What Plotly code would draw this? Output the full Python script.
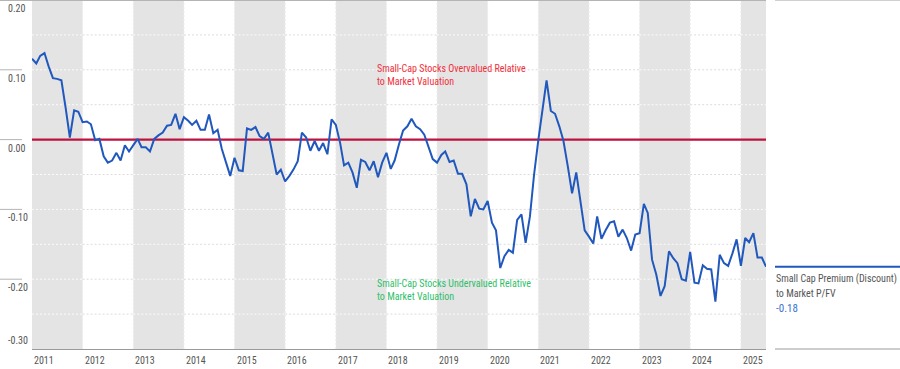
import pandas as pd
import plotly.graph_objects as go

# ---- data -------------------------------------------------------------
start_month = "2011-01-01"
premium = [
    0.116, 0.109, 0.120, 0.124, 0.105, 0.088, 0.087, 0.085, 0.045, 0.003, 0.042, 0.040,
    0.025, 0.026, 0.022, -0.001, 0.001, -0.024, -0.033, -0.030, -0.019, -0.030, -0.008, -0.017,
    -0.008, 0.001, -0.011, -0.011, -0.017, 0.001, 0.006, 0.010, 0.020, 0.021, 0.037, 0.015,
    0.032, 0.027, 0.021, 0.027, 0.014, 0.014, 0.036, 0.009, 0.014, -0.013, -0.033, -0.052,
    -0.026, -0.044, -0.045, 0.016, 0.014, 0.018, 0.005, 0.001, 0.010, -0.021, -0.050, -0.043,
    -0.060, -0.052, -0.043, -0.031, 0.010, 0.003, -0.016, -0.002, -0.016, -0.005, -0.021, 0.029,
    0.021, -0.005, -0.037, -0.033, -0.047, -0.069, -0.029, -0.032, -0.044, -0.031, -0.054, -0.033,
    -0.019, -0.042, -0.030, -0.007, 0.013, 0.019, 0.030, 0.019, 0.015, 0.007, -0.011, -0.028,
    -0.033, -0.022, -0.017, -0.032, -0.030, -0.049, -0.049, -0.064, -0.110, -0.085, -0.099, -0.100,
    -0.088, -0.119, -0.130, -0.184, -0.167, -0.158, -0.162, -0.115, -0.107, -0.148, -0.110, -0.050,
    0.000, 0.048, 0.085, 0.041, 0.037, 0.019, -0.002, -0.038, -0.077, -0.047, -0.091, -0.130,
    -0.139, -0.149, -0.110, -0.142, -0.130, -0.119, -0.117, -0.139, -0.129, -0.141, -0.159, -0.136,
    -0.134, -0.092, -0.105, -0.172, -0.193, -0.224, -0.210, -0.160, -0.170, -0.177, -0.200, -0.202,
    -0.161, -0.205, -0.206, -0.180, -0.185, -0.186, -0.232, -0.165, -0.177, -0.181, -0.163, -0.143,
    -0.181, -0.141, -0.147, -0.134, -0.169, -0.169, -0.182,
]
dates = pd.date_range(start_month, periods=len(premium), freq="MS")
years = list(range(2011, 2026))
y_ticks = [0.20, 0.10, 0.00, -0.10, -0.20, -0.30]
y_tick_labels = ["0.20", "0.10", "0.00", "-0.10", "-0.20", "-0.30"]
y_grid = [0.15, 0.10, 0.05, 0.00, -0.05, -0.10, -0.15, -0.20, -0.25]
reference_level = 0.0
series_name = "Small Cap Premium (Discount)"
series_name2 = "to Market P/FV"
over_text = "Small-Cap Stocks Overvalued Relative<br>to Market Valuation"
under_text = "Small-Cap Stocks Undervalued Relative<br>to Market Valuation"

# ---- layout constants --------------------------------------------------
W, H = 900, 369
L, R, T, B = 32, 134, 0, 20
PW = W - L - R
PH = H - T - B
FONT = "Liberation Sans Narrow, Roboto Condensed, Arial Narrow, Liberation Sans, sans-serif"
BLUE = "#2058bd"
BAND = "#e4e4e4"
DOT = "2px,2px"
x_end = pd.Timestamp("2025-07-01")

def px_x(p):  # pixel -> paper x
    return (p - L) / PW

def px_y(p):  # pixel -> paper y
    return (H - B - p) / PH

fig = go.Figure()
# zero reference line (drawn first so the series sits on top)
fig.add_trace(go.Scatter(x=[dates[0], x_end], y=[reference_level, reference_level], mode="lines",
                         line=dict(color="#bb1240", width=2.2), hoverinfo="skip",
                         showlegend=False))
fig.add_trace(go.Scatter(x=dates, y=premium, mode="lines",
                         line=dict(color=BLUE, width=2), hoverinfo="x+y",
                         showlegend=False))

shapes = []
# alternating year bands + dotted horizontal grid segments
for yr in years:
    x0 = pd.Timestamp(f"{yr}-01-01")
    x1 = min(pd.Timestamp(f"{yr + 1}-01-01"), x_end)
    banded = yr % 2 == 1
    if banded:
        shapes.append(dict(type="rect", xref="x", yref="paper", x0=x0, x1=x1, y0=0, y1=1,
                           fillcolor=BAND, line=dict(width=0), layer="below"))
    gcol = "#fbfbfb" if banded else "#dcdcdc"
    for v in y_grid:
        shapes.append(dict(type="line", xref="x", yref="y", x0=x0, x1=x1, y0=v, y1=v,
                           line=dict(color=gcol, width=1, dash=DOT), layer="below"))
# vertical dotted year lines
for yr in years[1:]:
    xv = pd.Timestamp(f"{yr}-01-01")
    shapes.append(dict(type="line", xref="x", yref="paper", x0=xv, x1=xv, y0=0, y1=1,
                       line=dict(color="#ececec", width=1, dash=DOT), layer="below"))
# top border
shapes.append(dict(type="line", xref="paper", yref="paper", x0=px_x(0), x1=1, y0=1, y1=1,
                   line=dict(color="#b4b4b4", width=2), layer="above"))
# left tick segments
for v in y_ticks[1:-1]:
    shapes.append(dict(type="line", xref="paper", yref="y", x0=px_x(0), x1=px_x(22), y0=v, y1=v,
                       line=dict(color="#b4b4b4", width=1)))
# legend block on the right
shapes.append(dict(type="line", xref="paper", yref="paper", x0=px_x(775), x1=px_x(900), y0=1, y1=1,
                   line=dict(color="#cfcfcf", width=2)))
shapes.append(dict(type="line", xref="paper", yref="paper", x0=px_x(775), x1=px_x(900), y0=0, y1=0,
                   line=dict(color="#9a9a9a", width=1)))
shapes.append(dict(type="line", xref="paper", yref="y", x0=px_x(775), x1=px_x(900),
                   y0=premium[-1], y1=premium[-1], line=dict(color=BLUE, width=2)))

annotations = []
for v, lab in zip(y_ticks, y_tick_labels):
    annotations.append(dict(xref="paper", yref="y", x=px_x(6), y=v, text=lab, showarrow=False,
                            xanchor="left", yanchor="middle", yshift=(9 if v == -0.30 else -8.5),
                            font=dict(family=FONT, size=10, color="#555555")))
for yr in years:
    annotations.append(dict(xref="x", yref="paper", x=pd.Timestamp(f"{yr}-01-01"), y=0,
                            text=str(yr), showarrow=False, xanchor="left", yanchor="middle",
                            yshift=-11, font=dict(family=FONT, size=10, color="#555555")))
annotations.append(dict(xref="x", yref="paper", x=pd.Timestamp("2018-01-01"), y=px_y(75),
                        text=over_text, showarrow=False, xanchor="left", yanchor="middle",
                        align="left", xshift=-11,
                        font=dict(family=FONT, size=10, color="#f0303c")))
annotations.append(dict(xref="x", yref="paper", x=pd.Timestamp("2018-01-01"), y=px_y(290),
                        text=under_text, showarrow=False, xanchor="left", yanchor="middle",
                        align="left", xshift=-11,
                        font=dict(family=FONT, size=10, color="#2fbf6a")))
annotations.append(dict(xref="paper", yref="paper", x=px_x(774), y=px_y(279), text=series_name,
                        showarrow=False, xanchor="left", yanchor="middle",
                        font=dict(family=FONT, size=10, color="#555555")))
annotations.append(dict(xref="paper", yref="paper", x=px_x(774), y=px_y(293), text=series_name2,
                        showarrow=False, xanchor="left", yanchor="middle",
                        font=dict(family=FONT, size=10, color="#555555")))
annotations.append(dict(xref="paper", yref="paper", x=px_x(774), y=px_y(308),
                        text=f"{premium[-1]:.2f}", showarrow=False, xanchor="left",
                        yanchor="middle", font=dict(family=FONT, size=11, color="#3a6fd0")))

fig.update_layout(
    width=W, height=H, autosize=False,
    margin=dict(l=L, r=R, t=T, b=B, pad=0),
    paper_bgcolor="white", plot_bgcolor="white",
    font=dict(family=FONT, size=10, color="#555555"),
    shapes=shapes, annotations=annotations, showlegend=False,
    xaxis=dict(type="date", range=[dates[0], x_end], showticklabels=False, ticks="",
               showgrid=False, zeroline=False,
               showline=True, linecolor="#9a9a9a", linewidth=1, mirror=False),
    yaxis=dict(range=[-0.30, 0.20], showticklabels=False, ticks="",
               showgrid=False, zeroline=False, showline=False),
)

fig.write_html("out.html", config={"displayModeBar": False},
               post_script="document.body.style.margin='0';")
